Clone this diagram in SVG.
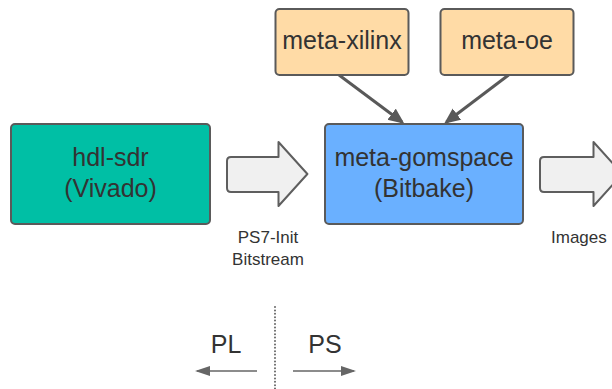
<svg xmlns="http://www.w3.org/2000/svg" width="612" height="389" viewBox="0 0 612 389">
  <style>
    .box { stroke: #5a5a5a; stroke-width: 2; }
    .big { font-family: "Liberation Sans", Arial, sans-serif; font-size: 25px; fill: #333333; text-anchor: middle; }
    .small { font-family: "Liberation Sans", Arial, sans-serif; font-size: 17px; fill: #333333; }
    .conn { stroke: #595959; stroke-width: 3; fill: none; }
    .blk { fill: #f0f0f0; stroke: #5e5e5e; stroke-width: 2; stroke-linejoin: round; }
    .dir { stroke: #666666; stroke-width: 1.5; fill: none; }
  </style>
  <defs>
    <marker id="ah" markerUnits="userSpaceOnUse" markerWidth="17" markerHeight="15" refX="13" refY="7" orient="auto">
      <path d="M0,0 L16,7 L0,14 Z" fill="#595959"/>
    </marker>
    <marker id="ah2" markerUnits="userSpaceOnUse" markerWidth="16" markerHeight="12" refX="13" refY="5" orient="auto">
      <path d="M0,0 L15,5 L0,10 Z" fill="#666666"/>
    </marker>
  </defs>

  <g id="connectors">
    <path class="conn" d="M339,75 L402,122" marker-end="url(#ah)"/>
    <path class="conn" d="M508.6,75 L446.5,122" marker-end="url(#ah)"/>
    <path id="blockarrow1" class="blk" d="M231,157 L278.5,157 L278.5,142 L307.4,174 L278.5,206 L278.5,192 L231,192 Q227,192 227,188 L227,161 Q227,157 231,157 Z"/>
    <path id="blockarrow2" class="blk" d="M544,157 L593.5,157 L593.5,142 L622.4,174 L593.5,206 L593.5,192 L544,192 Q540,192 540,188 L540,161 Q540,157 544,157 Z"/>
    <text class="small" x="268" y="243" text-anchor="middle">PS7-Init</text>
    <text class="small" x="268" y="265" text-anchor="middle">Bitstream</text>
    <text class="small" x="551" y="243">Images</text>
  </g>

  <g id="meta-xilinx">
    <rect class="box" x="275.5" y="9" width="133" height="66" rx="4" fill="#ffdba6"/>
    <text class="big" x="342" y="49">meta-xilinx</text>
  </g>
  <g id="meta-oe">
    <rect class="box" x="440.5" y="9" width="133" height="66" rx="4" fill="#ffdba6"/>
    <text class="big" x="507" y="49">meta-oe</text>
  </g>
  <g id="hdl-sdr">
    <rect class="box" x="11" y="124" width="199" height="100" rx="4" fill="#00bfa5"/>
    <text class="big" x="110.5" y="166">hdl-sdr</text>
    <text class="big" x="110.5" y="197">(Vivado)</text>
  </g>
  <g id="meta-gomspace">
    <rect class="box" x="325" y="124" width="198" height="100" rx="4" fill="#6ab0ff"/>
    <text class="big" x="424" y="166">meta-gomspace</text>
    <text class="big" x="424" y="197">(Bitbake)</text>
  </g>

  <g id="legend">
    <line x1="275" y1="307" x2="275" y2="389" stroke="#666666" stroke-width="2" stroke-linecap="round" stroke-dasharray="0 3.4"/>
    <text class="big" x="226" y="353">PL</text>
    <text class="big" x="325" y="353">PS</text>
    <path class="dir" d="M257,371 L197,371" marker-end="url(#ah2)"/>
    <path class="dir" d="M293,371 L354,371" marker-end="url(#ah2)"/>
  </g>
</svg>
